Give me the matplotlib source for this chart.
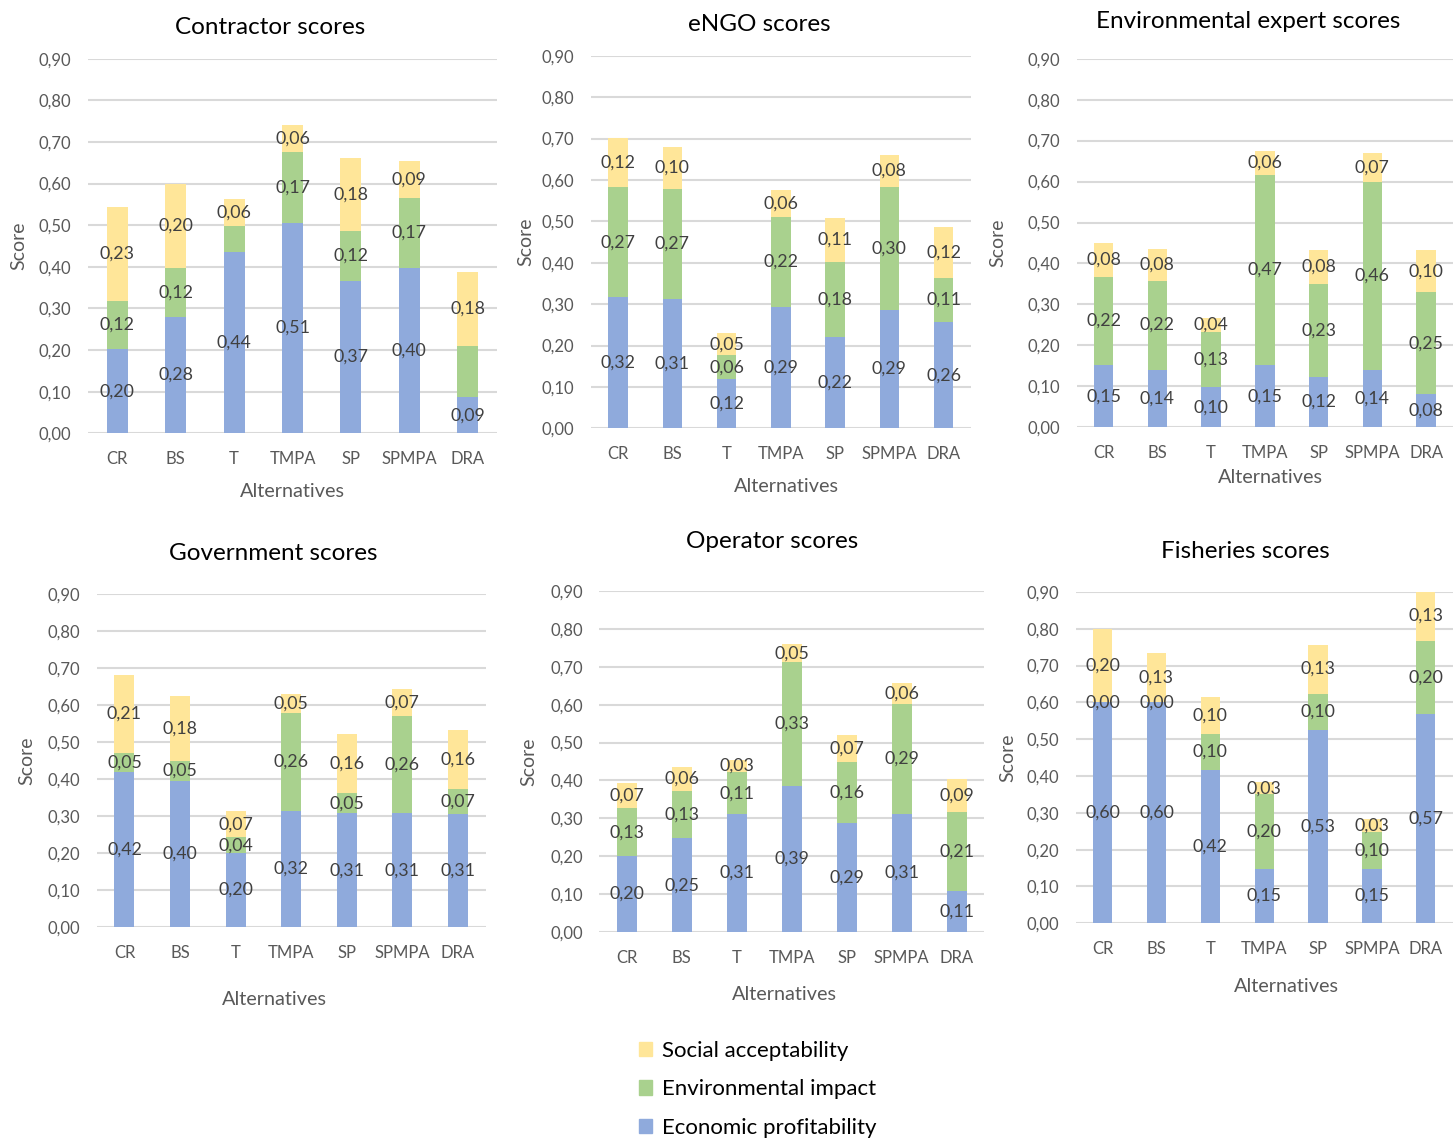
import matplotlib
matplotlib.use("Agg")
import matplotlib.pyplot as plt
from matplotlib.patches import Patch
import numpy as np

plt.rcParams['font.family'] = ['Lato', 'DejaVu Sans']

alternatives = ["CR", "BS", "T", "TMPA", "SP", "SPMPA", "DRA"]
criteria = ["Economic profitability", "Environmental impact", "Social acceptability"]
colors = ["#8FAADC", "#A9D18E", "#FFE699"]

# values: economic, environmental, social
contractor_econ = [0.202, 0.280, 0.436, 0.506, 0.367, 0.398, 0.087]
contractor_env = [0.116, 0.118, 0.062, 0.170, 0.119, 0.167, 0.123]
contractor_soc = [0.226, 0.202, 0.064, 0.064, 0.176, 0.089, 0.178]

engo_econ = [0.316, 0.312, 0.118, 0.294, 0.220, 0.286, 0.256]
engo_env = [0.267, 0.266, 0.058, 0.217, 0.182, 0.298, 0.108]
engo_soc = [0.118, 0.101, 0.053, 0.064, 0.107, 0.077, 0.123]

expert_econ = [0.151, 0.141, 0.098, 0.151, 0.124, 0.141, 0.081]
expert_env = [0.217, 0.217, 0.134, 0.466, 0.226, 0.458, 0.249]
expert_soc = [0.082, 0.078, 0.036, 0.058, 0.083, 0.070, 0.102]

gov_econ = [0.420, 0.396, 0.201, 0.315, 0.309, 0.309, 0.306]
gov_env = [0.052, 0.053, 0.042, 0.263, 0.053, 0.263, 0.069]
gov_soc = [0.211, 0.177, 0.071, 0.053, 0.160, 0.071, 0.158]

operator_econ = [0.200, 0.247, 0.312, 0.386, 0.289, 0.312, 0.108]
operator_env = [0.127, 0.126, 0.109, 0.326, 0.160, 0.289, 0.209]
operator_soc = [0.067, 0.063, 0.034, 0.048, 0.071, 0.057, 0.086]

fish_econ = [0.600, 0.600, 0.416, 0.148, 0.526, 0.148, 0.568]
fish_env = [0.000, 0.000, 0.099, 0.203, 0.098, 0.100, 0.200]
fish_soc = [0.199, 0.133, 0.101, 0.032, 0.133, 0.034, 0.133]

# data labels that the original leaves out (panel, criterion index, alternative)
hidden_labels = [("Contractor scores", 1, "T"), ("Contractor scores", 1, "DRA")]

W, H = 1453, 1139
fig = plt.figure(figsize=(W / 100, H / 100), dpi=100)

# title, series, axes box in px (left, right, top, bottom),
# title x, title pad, ylabel pad, xlabel pad, xlabel x
panels = [
    ("Contractor scores", (contractor_econ, contractor_env, contractor_soc),
     (88, 497, 58.7, 433.3), 0.445, 18, 8, 11, 0.501),
    ("eNGO scores", (engo_econ, engo_env, engo_soc),
     (591, 970.7, 55.7, 428.3), 0.442, 17.5, 5, 11, 0.514),
    ("Environmental expert scores", (expert_econ, expert_env, expert_soc),
     (1076.7, 1453, 58.7, 427.3), 0.455, 22, 15, 5.5, 0.514),
    ("Government scores", (gov_econ, gov_env, gov_soc),
     (96.7, 485.7, 594.3, 927.3), 0.453, 24.5, 8.5, 21.5, 0.458),
    ("Operator scores", (operator_econ, operator_env, operator_soc),
     (599.3, 984.3, 591, 932), 0.449, 31, 9, 14.5, 0.482),
    ("Fisheries scores", (fish_econ, fish_env, fish_soc),
     (1075.7, 1452.7, 592, 923.3), 0.449, 24.5, 7, 15, 0.558),
]

tick_color = "#595959"
x = np.arange(len(alternatives))
width = 0.36

for title, series, box, tx, tpad, ypad, xpad, xlx in panels:
    l, r, t, b = box
    ax = fig.add_axes([l / W, 1 - b / H, (r - l) / W, (b - t) / H])
    bottom = np.zeros(len(alternatives))
    for k, vals in enumerate(series):
        vals = np.array(vals)
        ax.bar(x, vals, width, bottom=bottom, color=colors[k], zorder=3)
        for i, v in enumerate(vals):
            if (title, k, alternatives[i]) in hidden_labels:
                continue
            lab = f"{v:.2f}".replace(".", ",")
            ax.text(x[i], bottom[i] + v / 2, lab, ha="center", va="center",
                    fontsize=12.8, color="#404040", zorder=4)
        bottom = bottom + vals

    ax.set_xlim(-0.5, len(alternatives) - 0.5)
    ax.set_ylim(0, 0.9)
    yt = np.arange(0, 0.91, 0.1)
    ax.set_yticks(yt)
    ax.set_yticklabels([f"{v:.2f}".replace(".", ",") for v in yt])
    ax.set_xticks(x)
    ax.set_xticklabels(alternatives)
    ax.tick_params(axis="y", length=0, pad=12, labelsize=12, labelcolor=tick_color)
    ax.tick_params(axis="x", length=0, pad=13, labelsize=12, labelcolor=tick_color)
    ax.grid(axis="y", color="#D9D9D9", linewidth=1.5, zorder=0)
    for s in ax.spines.values():
        s.set_visible(False)
    ax.set_ylabel("Score", fontsize=14, color=tick_color, labelpad=ypad)
    ax.set_xlabel("Alternatives", fontsize=14.3, color=tick_color, labelpad=xpad)
    ax.xaxis.label.set_x(xlx)
    ax.set_title(title, fontsize=17.5, color="black", x=tx, pad=tpad)

handles = [Patch(color=colors[k]) for k in [2, 1, 0]]
labels = [criteria[k] for k in [2, 1, 0]]
fig.legend(handles, labels, loc="upper left", bbox_to_anchor=(628 / W, 1 - 1030 / H),
           frameon=False, fontsize=16, handlelength=0.6, handleheight=0.6,
           handletextpad=0.45, labelspacing=0.82, borderpad=0)

fig.savefig("out.png", dpi=100)
